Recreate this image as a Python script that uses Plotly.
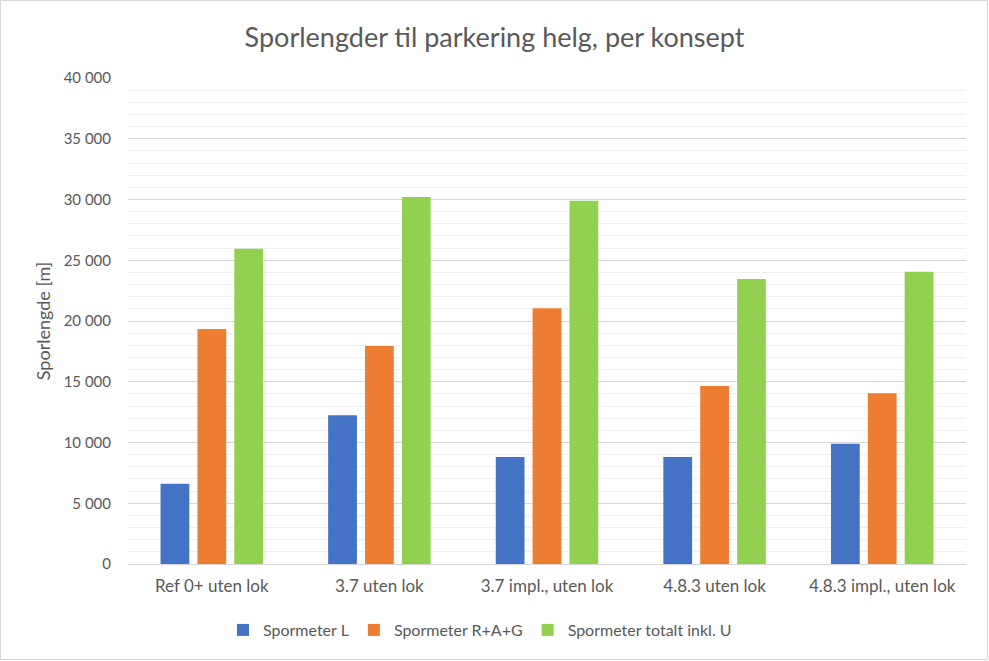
import plotly.graph_objects as go

categories = ["Ref 0+ uten lok", "3.7 uten lok", "3.7 impl., uten lok", "4.8.3 uten lok", "4.8.3 impl., uten lok"]
spormeter_L = [6600, 12250, 8800, 8800, 9900]
spormeter_RAG = [19350, 17950, 21050, 14650, 14050]
spormeter_total = [25950, 30200, 29900, 23450, 24050]
series_names = ["Spormeter L", "Spormeter R+A+G", "Spormeter totalt inkl. U"]
colors = ["#4472C4", "#ED7D31", "#92D050"]

W, H = 989, 661
ml, mr, mt, mb = 128, 23, 78, 97
font = "Lato, 'Open Sans', sans-serif"
gray = "#595959"

fig = go.Figure()
for name, vals, c in zip(series_names, [spormeter_L, spormeter_RAG, spormeter_total], colors):
    fig.add_trace(go.Bar(x=categories, y=vals, name=name, marker=dict(color=c, line=dict(width=0))))

pw = W - ml - mr
ph = H - mt - mb
fig.update_layout(
    width=W, height=H,
    margin=dict(l=ml, r=mr, t=mt, b=mb),
    paper_bgcolor="white", plot_bgcolor="white",
    barmode="group", bargap=0.34, bargroupgap=0.22,
    title=dict(text="Sporlengder til parkering helg, per konsept", x=0.5, xanchor="center",
               y=1 - 38 / H, yanchor="middle",
               font=dict(family=font, size=27, color=gray)),
    font=dict(family=font, size=15, color=gray),
    legend=dict(orientation="h", x=(480 - ml) / pw, xanchor="center", y=-(630 - (H - mb)) / ph, yanchor="middle",
                font=dict(size=16, color=gray), itemsizing="constant", traceorder="normal"),
    yaxis=dict(range=[0, 40000], dtick=5000, tickformat=",d", separatethousands=True,
               showgrid=True, gridcolor="#d6d6d6", gridwidth=1,
               minor=dict(dtick=1000, showgrid=True, gridcolor="#efefef", gridwidth=1),
               zeroline=True, zerolinecolor="#d6d6d6", zerolinewidth=1,
               ticks="", ticklabelstandoff=16,
               tickfont=dict(size=15, color=gray),
               title=dict(text="Sporlengde [m]", font=dict(size=18, color=gray), standoff=8)),
    xaxis=dict(showline=True, linecolor="#d6d6d6", ticks="", tickfont=dict(size=17, color=gray),
               ticklabelstandoff=7),
    separators=", ",
    shapes=[dict(type="rect", xref="paper", yref="paper",
                 x0=-(ml - 0.5) / pw, x1=1 + (mr - 1.5) / pw,
                 y0=-(mb - 1.5) / ph, y1=1 + (mt - 0.5) / ph,
                 line=dict(color="#d9d9d9", width=1))],
)

fig.write_html("out.html")
